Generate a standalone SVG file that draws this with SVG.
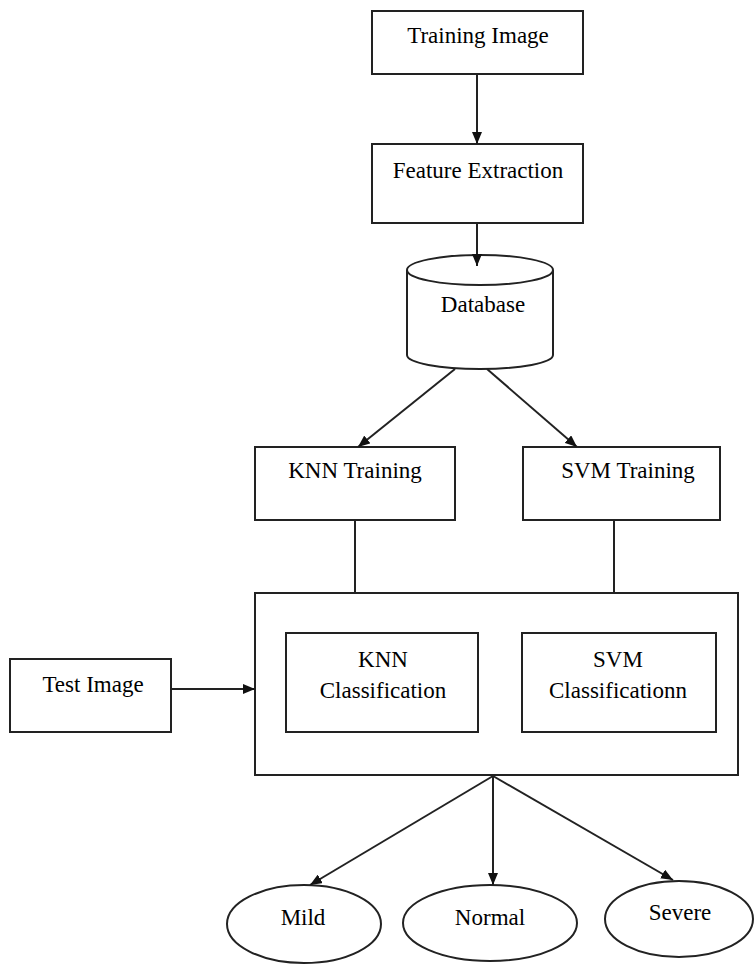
<svg xmlns="http://www.w3.org/2000/svg" width="755" height="965" viewBox="0 0 755 965">
<style>
.box{fill:#fff;stroke:#222;stroke-width:2}
.ln{fill:none;stroke:#222;stroke-width:2}
.t{font-family:'Liberation Serif','DejaVu Serif',serif;font-size:23px;fill:#000;text-anchor:middle}
</style>
<defs>
<marker id="ah" markerUnits="userSpaceOnUse" markerWidth="12" markerHeight="10" refX="12" refY="5" orient="auto">
<path d="M0,0 L12,5 L0,10 z" fill="#111"/>
</marker>
</defs>
<rect width="755" height="965" fill="#fff"/>
<g id="training-image">
<rect class="box" x="372" y="11" width="211" height="63"/>
<text class="t" x="478" y="43">Training Image</text>
</g>
<g id="feature-extraction">
<rect class="box" x="372" y="144" width="211" height="79"/>
<text class="t" x="478" y="178">Feature Extraction</text>
</g>
<g id="database">
<path class="box" d="M407,270 L407,355 A73,14 0 0 0 553,355 L553,270"/>
<ellipse class="box" cx="480" cy="270" rx="73" ry="15"/>
<text class="t" x="483" y="312">Database</text>
</g>
<g id="knn-training">
<rect class="box" x="255" y="447" width="200" height="73"/>
<text class="t" x="355" y="478">KNN Training</text>
</g>
<g id="svm-training">
<rect class="box" x="523" y="447" width="197" height="73"/>
<text class="t" x="628" y="478">SVM Training</text>
</g>
<g id="test-image">
<rect class="box" x="10" y="659" width="161" height="73"/>
<text class="t" x="93" y="692">Test Image</text>
</g>
<g id="classifier">
<rect class="box" x="255" y="593" width="483" height="182"/>
</g>
<g id="knn-classification">
<rect class="box" x="286" y="633" width="192" height="99"/>
<text class="t" x="383" y="667">KNN</text>
<text class="t" x="383" y="698">Classification</text>
</g>
<g id="svm-classification">
<rect class="box" x="522" y="633" width="194" height="99"/>
<text class="t" x="618" y="667">SVM</text>
<text class="t" x="618" y="698">Classificationn</text>
</g>
<g id="mild">
<ellipse class="box" cx="304" cy="924" rx="77" ry="39"/>
<text class="t" x="303" y="925">Mild</text>
</g>
<g id="normal">
<ellipse class="box" cx="490" cy="923" rx="87" ry="38"/>
<text class="t" x="490" y="925">Normal</text>
</g>
<g id="severe">
<ellipse class="box" cx="679" cy="919" rx="74" ry="38"/>
<text class="t" x="680" y="920">Severe</text>
</g>
<g id="connectors">
<line class="ln" x1="477" y1="74" x2="477" y2="144" marker-end="url(#ah)"/>
<line class="ln" x1="477" y1="223" x2="477" y2="266" marker-end="url(#ah)"/>
<line class="ln" x1="455" y1="369" x2="358" y2="447" marker-end="url(#ah)"/>
<line class="ln" x1="487" y1="369" x2="577" y2="447" marker-end="url(#ah)"/>
<line class="ln" x1="355" y1="520" x2="355" y2="593"/>
<line class="ln" x1="614" y1="520" x2="614" y2="593"/>
<line class="ln" x1="171" y1="689" x2="255" y2="689" marker-end="url(#ah)"/>
<line class="ln" x1="493" y1="776" x2="310" y2="885" marker-end="url(#ah)"/>
<line class="ln" x1="493" y1="776" x2="493" y2="885" marker-end="url(#ah)"/>
<line class="ln" x1="493" y1="776" x2="673" y2="880" marker-end="url(#ah)"/>
</g>
</svg>
